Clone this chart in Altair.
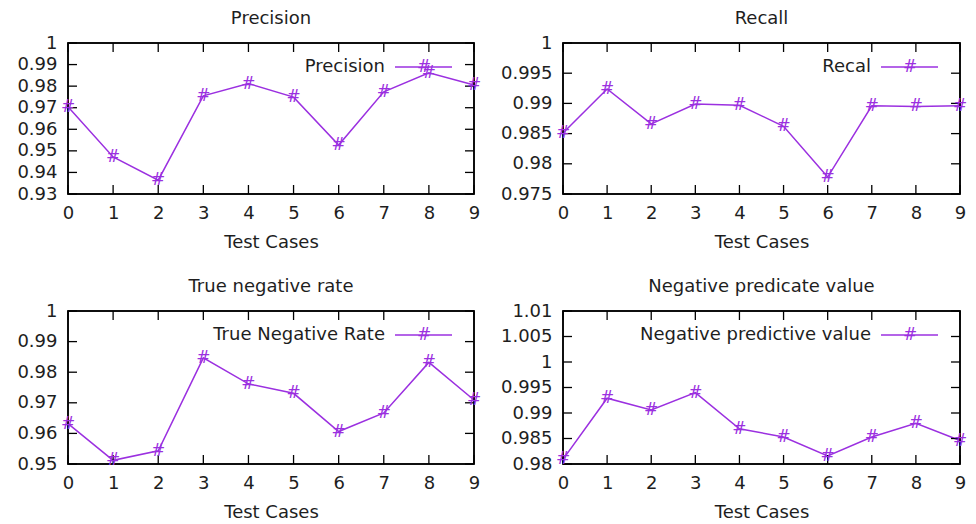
import altair as alt
import pandas as pd

FONT = "DejaVu Sans"
PURPLE = "#9b30e0"
INK = "#1e1e1e"
EDGE = "black"

cases = list(range(10))
precision = [0.9705, 0.9472, 0.9364, 0.9755, 0.9812, 0.9749, 0.9527, 0.9774, 0.9862, 0.9805]
recall = [0.9851, 0.9924, 0.9866, 0.9899, 0.9897, 0.9862, 0.9778, 0.9896, 0.9895, 0.9896]
tnr = [0.9632, 0.9512, 0.9543, 0.9847, 0.9762, 0.9731, 0.9606, 0.9667, 0.9832, 0.9709]
npv = [0.9809, 0.9929, 0.9906, 0.9940, 0.9869, 0.9853, 0.9816, 0.9853, 0.9880, 0.9846]

titles = ["Precision", "Recall", "True negative rate", "Negative predicate value"]
legend_labels = ["Precision", "Recal", "True Negative Rate", "Negative predictive value"]
x_title = "Test Cases"

ticks_precision = [0.93, 0.94, 0.95, 0.96, 0.97, 0.98, 0.99, 1.0]
ticks_recall = [0.975, 0.98, 0.985, 0.99, 0.995, 1.0]
ticks_tnr = [0.95, 0.96, 0.97, 0.98, 0.99, 1.0]
ticks_npv = [0.98, 0.985, 0.99, 0.995, 1.0, 1.005, 1.01]

TICK_SIZE = 81
SHAPE_UP = "M0,0L0,-2"
SHAPE_DOWN = "M0,0L0,2"
SHAPE_RIGHT = "M0,0L2,0"
SHAPE_LEFT = "M0,0L-2,0"


def panel(vals, title, label, ticks, w, h):
    df = pd.DataFrame({"case": cases, "value": vals})
    xs = alt.Scale(domain=[cases[0], cases[-1]], nice=False, zero=False)
    ys = alt.Scale(domain=[ticks[0], ticks[-1]], nice=False, zero=False)
    x_axis = alt.Axis(values=cases, title=x_title, tickSize=0, domain=False, grid=False,
                      labelPadding=10, titlePadding=11, labelFlush=False, labelBound=False,
                      labelOverlap=False, labelAngle=0)
    y_axis = alt.Axis(values=ticks, format="~g", title=None, tickSize=0, domain=False,
                      grid=False, labelPadding=11, labelOverlap=False, minExtent=62,
                      maxExtent=62)
    Xn = alt.X("case:Q", scale=xs, axis=None)
    Yn = alt.Y("value:Q", scale=ys, axis=None)
    line = alt.Chart(df).mark_line(color=PURPLE, strokeWidth=1.5).encode(
        x=alt.X("case:Q", scale=xs, axis=x_axis),
        y=alt.Y("value:Q", scale=ys, axis=y_axis))
    pts = alt.Chart(df).mark_text(text="#", fontSize=17, color=PURPLE, font=FONT,
                                  baseline="middle").encode(x=Xn, y=Yn)

    bottom = pd.DataFrame({"case": cases, "value": [ticks[0]] * len(cases)})
    top = pd.DataFrame({"case": cases, "value": [ticks[-1]] * len(cases)})
    left = pd.DataFrame({"case": [cases[0]] * len(ticks), "value": ticks})
    right = pd.DataFrame({"case": [cases[-1]] * len(ticks), "value": ticks})

    def tickmarks(d, shape):
        return alt.Chart(d).mark_point(shape=shape, size=TICK_SIZE, filled=False,
                                       color=EDGE, strokeWidth=1.3, opacity=1).encode(
            x=Xn, y=Yn)

    tb = tickmarks(bottom, SHAPE_UP)
    tt = tickmarks(top, SHAPE_DOWN)
    tl = tickmarks(left, SHAPE_RIGHT)
    tr = tickmarks(right, SHAPE_LEFT)

    ld = pd.DataFrame({"label": [label]})
    frame = alt.Chart(ld).mark_rect(filled=False, color=EDGE, strokeWidth=1.5).encode(
        x=alt.value(0), x2=alt.value(w), y=alt.value(0), y2=alt.value(h))
    lt = alt.Chart(ld).mark_text(align="right", baseline="middle", fontSize=18, font=FONT,
                                 color=INK).encode(
        text="label:N", x=alt.value(w - 89), y=alt.value(24))
    lr = alt.Chart(ld).mark_rule(color=PURPLE, strokeWidth=1.5).encode(
        x=alt.value(w - 79), x2=alt.value(w - 22), y=alt.value(24))
    lm = alt.Chart(ld).mark_text(text="#", fontSize=17, color=PURPLE, font=FONT,
                                 baseline="middle").encode(
        x=alt.value(w - 50), y=alt.value(24))
    return alt.layer(line, tb, tt, tl, tr, frame, pts, lt, lr, lm).resolve_axis(
        x="independent", y="independent"
    ).properties(
        width=w, height=h,
        title=alt.TitleParams(text=title, fontSize=18, fontWeight="normal", font=FONT,
                              color=INK, anchor="middle", frame="group", offset=6),
    )


p1 = panel(precision, titles[0], legend_labels[0], ticks_precision, 406, 151)
p2 = panel(recall, titles[1], legend_labels[1], ticks_recall, 397, 151)
p3 = panel(tnr, titles[2], legend_labels[2], ticks_tnr, 406, 153)
p4 = panel(npv, titles[3], legend_labels[3], ticks_npv, 397, 153)

chart = alt.vconcat(
    alt.hconcat(p1, p2, spacing=17),
    alt.hconcat(p3, p4, spacing=17),
    spacing=25,
).properties(
    padding={"left": 5, "top": 9, "right": 5, "bottom": 5},
    background="white",
).configure_view(
    stroke=EDGE, strokeWidth=1.5
).configure_axis(
    labelFont=FONT, labelFontSize=18, labelColor=INK,
    titleFont=FONT, titleFontSize=18, titleFontWeight="normal", titleColor=INK,
)

chart.save("out.html", embed_options={"renderer": "svg", "actions": False})
